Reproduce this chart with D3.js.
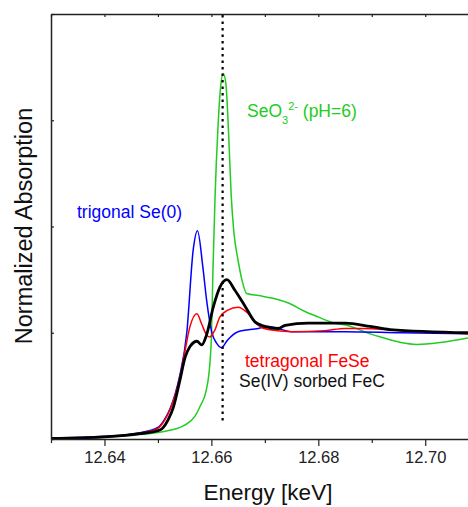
<!DOCTYPE html>
<html><head><meta charset="utf-8">
<script src="https://cdn.jsdelivr.net/npm/d3@7"></script>
<style>body{margin:0;background:#fff}svg{display:block}text{font-family:"Liberation Sans",Arial,sans-serif}</style>
</head><body>
<svg id="c" width="468" height="507"></svg>
<script>
// Data (energy in keV, normalized absorption)
const seo3E = [12.630,12.640,12.645,12.650,12.652,12.655,12.657,12.658,12.659,12.6597,12.6600,12.6603,12.6607,12.6612,12.6617,12.6622,12.6627,12.6632,12.6637,12.6642,12.6650,12.6657,12.6666,12.6688,12.6719,12.6744,12.6775,12.6794,12.6831,12.6853,12.6903,12.6984,12.708];
const seo3A = [0.01,0.02,0.035,0.06,0.08,0.13,0.22,0.32,0.45,0.70,0.95,1.6,2.3,2.9,3.3,3.44,3.35,2.9,2.3,1.95,1.68,1.50,1.37,1.35,1.32,1.28,1.20,1.16,1.09,1.07,0.98,0.89,0.95];

const seE = [12.630,12.640,12.6466,12.650,12.6513,12.6523,12.6532,12.6541,12.6554,12.6566,12.6574,12.6584,12.6591,12.6601,12.6610,12.6619,12.6630,12.6650,12.6688,12.6706,12.6725,12.6750,12.6850,12.6953,12.708];
const seA = [0.008,0.025,0.06,0.11,0.19,0.29,0.42,0.60,1.0,1.78,1.96,1.62,1.31,1.0,0.90,0.86,0.93,1.01,1.04,1.06,1.04,1.01,1.01,1.00,0.99];

const fesE = [12.630,12.640,12.6466,12.650,12.6513,12.6523,12.6532,12.6541,12.6551,12.656,12.6573,12.6582,12.6591,12.6597,12.6606,12.6616,12.6630,12.6650,12.6669,12.6688,12.6706,12.6750,12.6813,12.6850,12.6878,12.6959,12.708];
const fesA = [0.006,0.02,0.055,0.10,0.18,0.28,0.41,0.58,0.84,1.06,1.18,1.08,0.98,0.96,1.02,1.15,1.21,1.24,1.18,1.07,1.03,1.01,1.02,1.04,1.04,1.02,0.99];

const sorbE = [12.630,12.640,12.6466,12.6504,12.6519,12.6529,12.6541,12.6551,12.656,12.6573,12.6582,12.6591,12.6604,12.6616,12.6629,12.6644,12.6663,12.6682,12.6700,12.6725,12.6738,12.6781,12.6850,12.6897,12.6934,12.708];
const sorbA = [0.005,0.02,0.05,0.085,0.18,0.30,0.55,0.77,0.87,0.92,0.885,0.98,1.25,1.43,1.50,1.40,1.25,1.10,1.06,1.04,1.07,1.09,1.09,1.06,1.03,1.00];

const xTicks = [12.63,12.64,12.65,12.66,12.67,12.68,12.69,12.70];
const xLabels = ["12.64","12.66","12.68","12.70"];
const yTicks = [0,1,2,3,4];
const refEnergy = 12.6621;

const svg = d3.select("#c");
const L=51, T=14, R=468, B=439;
const x = d3.scaleLinear().domain([12.63,12.708]).range([L,R]);
const y = d3.scaleLinear().domain([0,4]).range([B,T]);

svg.append("defs").append("clipPath").attr("id","cp").append("rect")
  .attr("x",L).attr("y",T).attr("width",R-L).attr("height",B-T);

const line = d3.line().x(d=>x(d[0])).y(d=>y(d[1])).curve(d3.curveMonotoneX);
const zip=(a,b)=>a.map((v,i)=>[v,b[i]]);
const g = svg.append("g").attr("clip-path","url(#cp)");
const series = [
  {d:zip(seo3E,seo3A), c:"#22cc22", w:1.5},
  {d:zip(seE,seA), c:"#0000ff", w:1.5},
  {d:zip(fesE,fesA), c:"#ff0000", w:1.5},
  {d:zip(sorbE,sorbA), c:"#000000", w:2.8}
];
series.forEach(s=>g.append("path").attr("d",line(s.d)).attr("fill","none")
  .attr("stroke",s.c).attr("stroke-width",s.w).attr("stroke-linejoin","round"));

// dotted reference line
svg.append("line").attr("x1",x(refEnergy)).attr("x2",x(refEnergy))
  .attr("y1",T+1).attr("y2",423).attr("stroke","#000").attr("stroke-width",2.2)
  .attr("stroke-dasharray","2.5,4");

// axes
const axCol="#222";
const fmt=d3.format(".2f");
const bottomAx = svg.append("g").attr("transform",`translate(0,${B})`)
  .call(d3.axisBottom(x).tickValues(xTicks).tickSize(4).tickSizeOuter(0)
    .tickFormat(d=>xLabels.includes(fmt(d))?fmt(d):""));
bottomAx.select(".domain").attr("stroke",axCol).attr("stroke-width",1.5);
bottomAx.selectAll(".tick line").attr("stroke",axCol).attr("stroke-width",1.2)
  .attr("y2",d=>xLabels.includes(fmt(d))?7:4);
bottomAx.selectAll(".tick text").attr("font-size",16.5).attr("fill","#222").attr("dy","1.05em")
  .style("font-family",'"Liberation Sans",Arial,sans-serif');

const topAx = svg.append("g").attr("transform",`translate(0,${T})`)
  .call(d3.axisTop(x).tickValues(xTicks).tickSize(-3).tickSizeOuter(0).tickFormat(""));
topAx.select(".domain").attr("stroke",axCol).attr("stroke-width",1.5);
topAx.selectAll(".tick line").attr("stroke",axCol).attr("stroke-width",1.2);

const leftAx = svg.append("g").attr("transform",`translate(${L},0)`)
  .call(d3.axisLeft(y).tickValues(yTicks).tickSize(-3).tickSizeOuter(0).tickFormat(""));
leftAx.select(".domain").attr("stroke",axCol).attr("stroke-width",1.5);
leftAx.selectAll(".tick line").attr("stroke",axCol).attr("stroke-width",1.2);

// axis titles
svg.append("text").attr("x",268).attr("y",500).attr("text-anchor","middle")
  .attr("font-size",22.5).attr("fill","#111").text("Energy [keV]");
svg.append("text").attr("transform","translate(32,226) rotate(-90)").attr("text-anchor","middle")
  .attr("font-size",23.5).attr("fill","#111").text("Normalized Absorption");

// annotations
svg.append("text").attr("x",77).attr("y",218).attr("font-size",17.5).attr("fill","#0000ff").text("trigonal Se(0)");
const gt = svg.append("text").attr("x",247).attr("y",117).attr("font-size",17.5).attr("fill","#22cc22");
gt.append("tspan").text("SeO");
gt.append("tspan").attr("font-size",11).attr("dy",7).text("3");
gt.append("tspan").attr("font-size",11).attr("dy",-14).text("2-");
gt.append("tspan").attr("dy",7).text(" (pH=6)");
svg.append("text").attr("x",245).attr("y",367).attr("font-size",17.5).attr("fill","#ff0000").text("tetragonal FeSe");
svg.append("text").attr("x",239).attr("y",387).attr("font-size",17.5).attr("fill","#111").text("Se(IV) sorbed FeC");
</script>
</body></html>
